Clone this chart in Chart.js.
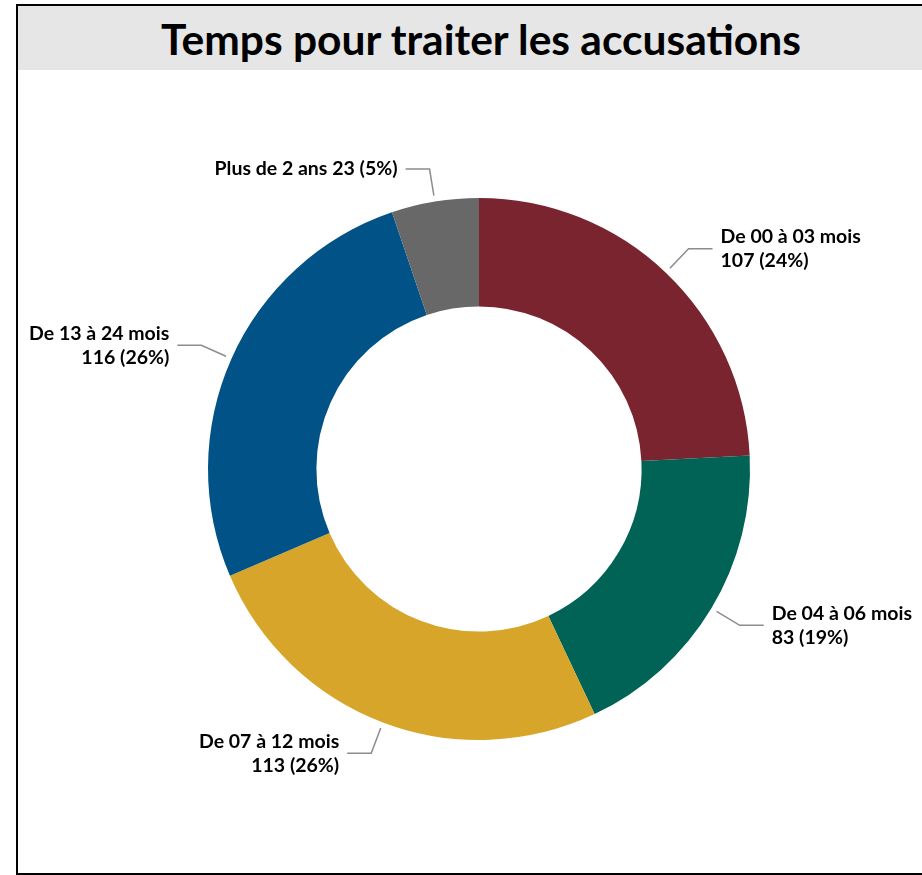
<!DOCTYPE html>
<html>
<head>
<meta charset="utf-8">
<script src="https://cdn.jsdelivr.net/npm/chart.js@4/dist/chart.umd.min.js"></script>
<style>
    html, body { margin: 0; padding: 0; background: #fff; overflow: hidden; }
    #frame {
        position: absolute; left: 16px; top: 4px; width: 930px; height: 871px;
        box-sizing: border-box; border: 2px solid #000; background: #fff;
    }
    #title {
        position: absolute; left: 0; top: 0; right: 0; height: 64px;
        background: #e6e6e6; text-align: center;
        font-family: Lato, sans-serif; font-weight: bold; font-size: 42.5px; line-height: 66px;
        color: #000;
    }
    #chart { position: absolute; left: 0; top: 0; }
</style>
</head>
<body>
<div id="frame"><div id="title">Temps pour traiter les accusations</div></div>
<canvas id="chart" width="922" height="875"></canvas>
<script>
const categories = ["De 00 à 03 mois", "De 04 à 06 mois", "De 07 à 12 mois", "De 13 à 24 mois", "Plus de 2 ans"];
const values = [107, 83, 113, 116, 23];
const colors = ["#7a2430", "#006356", "#d8a52b", "#015287", "#686868"];
const wrapLabel = [true, true, true, true, false];

const total = values.reduce((a, b) => a + b, 0);

// leader lines + labels drawn outside the ring
const outsideLabels = {
    id: "outsideLabels",
    afterDatasetsDraw(chart) {
        const ctx = chart.ctx;
        const meta = chart.getDatasetMeta(0);
        ctx.save();
        ctx.font = "bold 19.5px Lato, sans-serif";
        ctx.fillStyle = "#000";
        ctx.strokeStyle = "#8c8c8c";
        ctx.lineWidth = 1.5;
        ctx.textBaseline = "middle";
        meta.data.forEach((arc, i) => {
            const { x, y, startAngle, endAngle, outerRadius } = arc.getProps(["x", "y", "startAngle", "endAngle", "outerRadius"], true);
            const mid = (startAngle + endAngle) / 2;
            const c = Math.cos(mid), s = Math.sin(mid);
            const p1 = { x: x + (outerRadius + 6) * c, y: y + (outerRadius + 6) * s };
            const p2 = { x: x + (outerRadius + 33) * c, y: y + (outerRadius + 33) * s };
            const dir = c >= 0 ? 1 : -1;
            const p3 = { x: p2.x + dir * 24, y: p2.y };
            ctx.beginPath();
            ctx.moveTo(p1.x, p1.y);
            ctx.lineTo(p2.x, p2.y);
            ctx.lineTo(p3.x, p3.y);
            ctx.stroke();

            const pct = Math.round(values[i] / total * 100);
            const valText = values[i] + " (" + pct + "%)";
            const lines = wrapLabel[i] ? [categories[i], valText] : [categories[i] + " " + valText];
            ctx.textAlign = dir > 0 ? "left" : "right";
            const tx = p3.x + dir * 8;
            const lh = 24;
            const y0 = p3.y - (lines.length - 1) * lh / 2;
            lines.forEach((t, k) => ctx.fillText(t, tx, y0 + k * lh));
        });
        ctx.restore();
    },
};

new Chart(document.getElementById("chart"), {
    type: "doughnut",
    data: {
        labels: categories,
        datasets: [
            {
                data: values,
                backgroundColor: colors,
                borderWidth: 0,
            },
        ],
    },
    options: {
        responsive: false,
        animation: false,
        cutout: "60%",
        layout: {
            padding: { left: 208, top: 198, right: 172, bottom: 135 },
        },
        plugins: {
            legend: { display: false },
            tooltip: { enabled: false },
            title: { display: false },
        },
    },
    plugins: [outsideLabels],
});
</script>
</body>
</html>
